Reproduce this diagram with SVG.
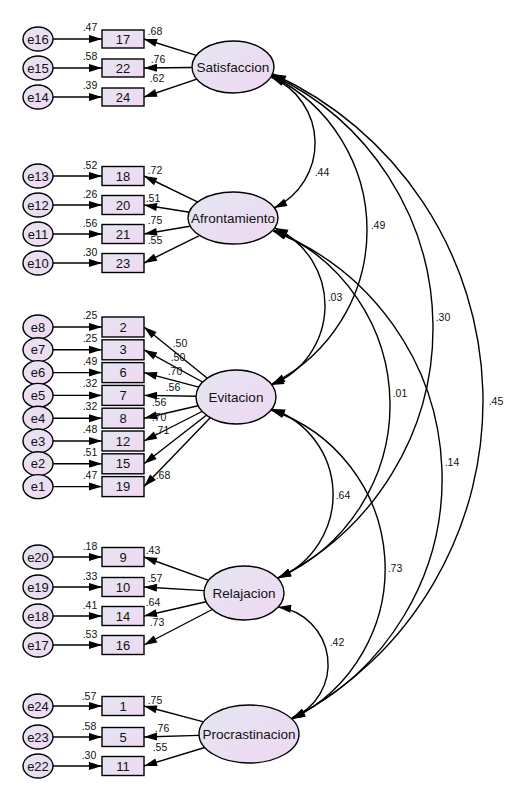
<svg xmlns="http://www.w3.org/2000/svg" width="516" height="791" viewBox="0 0 516 791">
<style>
  .shape { fill: url(#shade); stroke: #000; stroke-width: 1.4; }
  .wire { fill: none; stroke: #000; stroke-width: 1.4; }
  .tip { marker-end: url(#head); }
  .both { marker-start: url(#head); marker-end: url(#head); }
  text { font-family: "Liberation Sans", Arial, sans-serif; fill: #111; dominant-baseline: central; text-anchor: middle; }
  .lat { font-size: 13.5px; }
  .obs { font-size: 13px; }
  .err { font-size: 13px; }
  .num { font-size: 10.5px; fill: #222; }
</style>
<defs>
  <linearGradient id="shade" x1="0" y1="0" x2="1" y2="1">
    <stop offset="0" stop-color="#e4e6f1"/>
    <stop offset="1" stop-color="#f0d8f3"/>
  </linearGradient>
  <marker id="head" markerUnits="userSpaceOnUse" markerWidth="13" markerHeight="9" refX="13" refY="4.5" orient="auto-start-reverse" overflow="visible">
    <path d="M0,0.5 L13,4.5 L0,8.5 Z" fill="#000"/>
  </marker>
</defs>
<rect width="516" height="791" fill="#fff"/>

<!-- connectors: error terms, loadings, covariances -->
<g id="connectors">
  <!-- error -> indicator -->
  <g class="wire tip">
    <line x1="53" y1="39" x2="102" y2="39"/>
    <line x1="53" y1="68" x2="102" y2="68"/>
    <line x1="53" y1="97" x2="102" y2="97"/>
    <line x1="53" y1="176" x2="102" y2="176"/>
    <line x1="53" y1="205" x2="102" y2="205"/>
    <line x1="53" y1="234" x2="102" y2="234"/>
    <line x1="53" y1="263" x2="102" y2="263"/>
    <line x1="53" y1="327" x2="102" y2="327"/>
    <line x1="53" y1="349.8" x2="102" y2="349.8"/>
    <line x1="53" y1="372.6" x2="102" y2="372.6"/>
    <line x1="53" y1="395.4" x2="102" y2="395.4"/>
    <line x1="53" y1="418.2" x2="102" y2="418.2"/>
    <line x1="53" y1="441" x2="102" y2="441"/>
    <line x1="53" y1="463.8" x2="102" y2="463.8"/>
    <line x1="53" y1="486.6" x2="102" y2="486.6"/>
    <line x1="53" y1="557" x2="102" y2="557"/>
    <line x1="53" y1="587" x2="102" y2="587"/>
    <line x1="53" y1="616" x2="102" y2="616"/>
    <line x1="53" y1="645" x2="102" y2="645"/>
    <line x1="53" y1="706" x2="102" y2="706"/>
    <line x1="53" y1="737" x2="102" y2="737"/>
    <line x1="53" y1="766" x2="102" y2="766"/>
  </g>
  <!-- factor -> indicator -->
  <g class="wire tip">
    <line x1="196.3" y1="55.4" x2="144" y2="39"/>
    <line x1="192" y1="67.5" x2="144" y2="68"/>
    <line x1="196.8" y1="79.2" x2="144" y2="97"/>
    <line x1="198.5" y1="202.3" x2="144" y2="176"/>
    <line x1="189.6" y1="212.2" x2="144" y2="205"/>
    <line x1="189.8" y1="226.3" x2="144" y2="234"/>
    <line x1="198.8" y1="235.9" x2="144" y2="263"/>
    <line x1="207" y1="378" x2="144" y2="327"/>
    <line x1="202.5" y1="382" x2="144" y2="349.8"/>
    <line x1="198.8" y1="387.1" x2="144" y2="372.6"/>
    <line x1="196" y1="396.3" x2="144" y2="395.4"/>
    <line x1="198.1" y1="405.7" x2="144" y2="418.2"/>
    <line x1="202" y1="411.5" x2="144" y2="441"/>
    <line x1="206" y1="415.5" x2="144" y2="463.8"/>
    <line x1="210" y1="418" x2="144" y2="486.6"/>
    <line x1="208.7" y1="580.3" x2="144" y2="557"/>
    <line x1="204.2" y1="590.6" x2="144" y2="587"/>
    <line x1="206.1" y1="601.7" x2="144" y2="616"/>
    <line x1="212.3" y1="609.5" x2="144" y2="645"/>
    <line x1="203.6" y1="721.9" x2="144" y2="706"/>
    <line x1="199.1" y1="735.4" x2="144" y2="737"/>
    <line x1="204.7" y1="747.5" x2="144" y2="766"/>
  </g>
  <!-- covariances between factors -->
  <g class="wire both">
    <path d="M271,77 A71.7,71.7 0 0,1 274,208"/>
    <path d="M272,76 A172.3,172.3 0 0,1 272,384"/>
    <path d="M272,75 A279.2,279.2 0 0,1 278,578"/>
    <path d="M273,74 A359.9,359.9 0 0,1 292,719"/>
    <path d="M275,228 A85.3,85.3 0 0,1 271,385"/>
    <path d="M274,230 A189.8,189.8 0 0,1 278,578"/>
    <path d="M273,231 A265.9,265.9 0 0,1 292,718"/>
    <path d="M272,409 A90.6,90.6 0 0,1 278,578"/>
    <path d="M271,410 A167.6,167.6 0 0,1 292,719"/>
    <path d="M278,607 A57.9,57.9 0 0,1 292,718"/>
  </g>
  <!-- coefficient labels -->
  <g class="num">
    <text x="90" y="27">.47</text>
    <text x="90" y="56">.58</text>
    <text x="90" y="85">.39</text>
    <text x="155" y="31">.68</text>
    <text x="158" y="59">.76</text>
    <text x="157" y="78">.62</text>

    <text x="90" y="165">.52</text>
    <text x="90" y="194">.26</text>
    <text x="90" y="223">.56</text>
    <text x="90" y="252">.30</text>
    <text x="155" y="170">.72</text>
    <text x="153" y="198">.51</text>
    <text x="155" y="220">.75</text>
    <text x="155" y="240">.55</text>

    <text x="90" y="315">.25</text>
    <text x="90" y="338">.25</text>
    <text x="90" y="361">.49</text>
    <text x="90" y="383">.32</text>
    <text x="90" y="406">.32</text>
    <text x="90" y="429">.48</text>
    <text x="90" y="452">.51</text>
    <text x="90" y="475">.47</text>
    <text x="180" y="343">.50</text>
    <text x="178" y="357">.50</text>
    <text x="175" y="371">.70</text>
    <text x="173" y="387">.56</text>
    <text x="159" y="402">.56</text>
    <text x="159" y="417">.70</text>
    <text x="162" y="430">.71</text>
    <text x="163" y="475">.68</text>

    <text x="90" y="546">.18</text>
    <text x="90" y="576">.33</text>
    <text x="90" y="605">.41</text>
    <text x="90" y="634">.53</text>
    <text x="153" y="550">.43</text>
    <text x="155" y="578">.57</text>
    <text x="153" y="602">.64</text>
    <text x="157" y="622">.73</text>

    <text x="89" y="696">.57</text>
    <text x="89" y="726">.58</text>
    <text x="89" y="755">.30</text>
    <text x="155" y="700">.75</text>
    <text x="162" y="728">.76</text>
    <text x="160" y="747">.55</text>

    <text x="322" y="172">.44</text>
    <text x="378" y="225">.49</text>
    <text x="443" y="317">.30</text>
    <text x="496" y="401">.45</text>
    <text x="335" y="297">.03</text>
    <text x="400" y="393">.01</text>
    <text x="452" y="462">.14</text>
    <text x="343" y="495">.64</text>
    <text x="395" y="568">.73</text>
    <text x="337" y="642">.42</text>
  </g>
</g>

<!-- latent factors -->
<g id="Satisfaccion"><ellipse class="shape" cx="233" cy="67" rx="41" ry="26"/><text class="lat" x="233" y="67">Satisfaccion</text></g>
<g id="Afrontamiento"><ellipse class="shape" cx="233" cy="218" rx="45" ry="26"/><text class="lat" x="233" y="218">Afrontamiento</text></g>
<g id="Evitacion"><ellipse class="shape" cx="236" cy="397" rx="40" ry="27"/><text class="lat" x="236" y="397">Evitacion</text></g>
<g id="Relajacion"><ellipse class="shape" cx="244" cy="593" rx="40" ry="27"/><text class="lat" x="244" y="593">Relajacion</text></g>
<g id="Procrastinacion"><ellipse class="shape" cx="249" cy="734" rx="50" ry="29"/><text class="lat" x="249" y="734">Procrastinacion</text></g>

<!-- observed items -->
<g id="item17"><rect class="shape" x="102" y="30" width="42" height="18"/><text class="obs" x="123" y="39">17</text></g>
<g id="item22"><rect class="shape" x="102" y="59" width="42" height="18"/><text class="obs" x="123" y="68">22</text></g>
<g id="item24"><rect class="shape" x="102" y="88" width="42" height="18"/><text class="obs" x="123" y="97">24</text></g>

<g id="item18"><rect class="shape" x="102" y="166.5" width="42" height="19"/><text class="obs" x="123" y="176">18</text></g>
<g id="item20"><rect class="shape" x="102" y="195.5" width="42" height="19"/><text class="obs" x="123" y="205">20</text></g>
<g id="item21"><rect class="shape" x="102" y="224.5" width="42" height="19"/><text class="obs" x="123" y="234">21</text></g>
<g id="item23"><rect class="shape" x="102" y="253.5" width="42" height="19"/><text class="obs" x="123" y="263">23</text></g>

<g id="item2"><rect class="shape" x="102" y="317" width="42" height="20"/><text class="obs" x="123" y="327">2</text></g>
<g id="item3"><rect class="shape" x="102" y="339.8" width="42" height="20"/><text class="obs" x="123" y="349.8">3</text></g>
<g id="item6"><rect class="shape" x="102" y="362.6" width="42" height="20"/><text class="obs" x="123" y="372.6">6</text></g>
<g id="item7"><rect class="shape" x="102" y="385.4" width="42" height="20"/><text class="obs" x="123" y="395.4">7</text></g>
<g id="item8"><rect class="shape" x="102" y="408.2" width="42" height="20"/><text class="obs" x="123" y="418.2">8</text></g>
<g id="item12"><rect class="shape" x="102" y="431" width="42" height="20"/><text class="obs" x="123" y="441">12</text></g>
<g id="item15"><rect class="shape" x="102" y="453.8" width="42" height="20"/><text class="obs" x="123" y="463.8">15</text></g>
<g id="item19"><rect class="shape" x="102" y="476.6" width="42" height="20"/><text class="obs" x="123" y="486.6">19</text></g>

<g id="item9"><rect class="shape" x="102" y="547.5" width="42" height="19"/><text class="obs" x="123" y="557">9</text></g>
<g id="item10"><rect class="shape" x="102" y="577.5" width="42" height="19"/><text class="obs" x="123" y="587">10</text></g>
<g id="item14"><rect class="shape" x="102" y="606.5" width="42" height="19"/><text class="obs" x="123" y="616">14</text></g>
<g id="item16"><rect class="shape" x="102" y="635.5" width="42" height="19"/><text class="obs" x="123" y="645">16</text></g>

<g id="item1"><rect class="shape" x="102" y="696.5" width="42" height="19"/><text class="obs" x="123" y="706">1</text></g>
<g id="item5"><rect class="shape" x="102" y="727.5" width="42" height="19"/><text class="obs" x="123" y="737">5</text></g>
<g id="item11"><rect class="shape" x="102" y="756.5" width="42" height="19"/><text class="obs" x="123" y="766">11</text></g>

<!-- error terms -->
<g id="e16"><ellipse class="shape" cx="38" cy="39" rx="15" ry="12"/><text class="err" x="38" y="39">e16</text></g>
<g id="e15"><ellipse class="shape" cx="38" cy="68" rx="15" ry="12"/><text class="err" x="38" y="68">e15</text></g>
<g id="e14"><ellipse class="shape" cx="38" cy="97" rx="15" ry="12"/><text class="err" x="38" y="97">e14</text></g>

<g id="e13"><ellipse class="shape" cx="38" cy="176" rx="15" ry="12"/><text class="err" x="38" y="176">e13</text></g>
<g id="e12"><ellipse class="shape" cx="38" cy="205" rx="15" ry="12"/><text class="err" x="38" y="205">e12</text></g>
<g id="e11"><ellipse class="shape" cx="38" cy="234" rx="15" ry="12"/><text class="err" x="38" y="234">e11</text></g>
<g id="e10"><ellipse class="shape" cx="38" cy="263" rx="15" ry="12"/><text class="err" x="38" y="263">e10</text></g>

<g id="e8"><ellipse class="shape" cx="38" cy="327" rx="15" ry="12"/><text class="err" x="38" y="327">e8</text></g>
<g id="e7"><ellipse class="shape" cx="38" cy="349.8" rx="15" ry="12"/><text class="err" x="38" y="349.8">e7</text></g>
<g id="e6"><ellipse class="shape" cx="38" cy="372.6" rx="15" ry="12"/><text class="err" x="38" y="372.6">e6</text></g>
<g id="e5"><ellipse class="shape" cx="38" cy="395.4" rx="15" ry="12"/><text class="err" x="38" y="395.4">e5</text></g>
<g id="e4"><ellipse class="shape" cx="38" cy="418.2" rx="15" ry="12"/><text class="err" x="38" y="418.2">e4</text></g>
<g id="e3"><ellipse class="shape" cx="38" cy="441" rx="15" ry="12"/><text class="err" x="38" y="441">e3</text></g>
<g id="e2"><ellipse class="shape" cx="38" cy="463.8" rx="15" ry="12"/><text class="err" x="38" y="463.8">e2</text></g>
<g id="e1"><ellipse class="shape" cx="38" cy="486.6" rx="15" ry="12"/><text class="err" x="38" y="486.6">e1</text></g>

<g id="e20"><ellipse class="shape" cx="38" cy="557" rx="15" ry="12"/><text class="err" x="38" y="557">e20</text></g>
<g id="e19"><ellipse class="shape" cx="38" cy="587" rx="15" ry="12"/><text class="err" x="38" y="587">e19</text></g>
<g id="e18"><ellipse class="shape" cx="38" cy="616" rx="15" ry="12"/><text class="err" x="38" y="616">e18</text></g>
<g id="e17"><ellipse class="shape" cx="38" cy="645" rx="15" ry="12"/><text class="err" x="38" y="645">e17</text></g>

<g id="e24"><ellipse class="shape" cx="38" cy="706" rx="15" ry="12"/><text class="err" x="38" y="706">e24</text></g>
<g id="e23"><ellipse class="shape" cx="38" cy="737" rx="15" ry="12"/><text class="err" x="38" y="737">e23</text></g>
<g id="e22"><ellipse class="shape" cx="38" cy="766" rx="15" ry="12"/><text class="err" x="38" y="766">e22</text></g>
</svg>
